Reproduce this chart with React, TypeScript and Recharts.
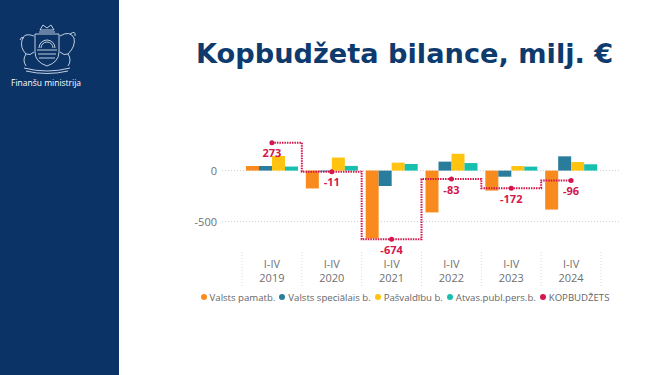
import React from 'react';
import {
  ComposedChart,
  Bar,
  Line,
  XAxis,
  YAxis,
  CartesianGrid,
  Legend,
  LabelList,
} from 'recharts';

// ---- data ----
const years = ['2019', '2020', '2021', '2022', '2023', '2024'];
const periodLabel = 'I-IV';
const valstsPamatb = [45, -175, -666, -410, -196, -382];
const valstsSpecialais = [45, -10, -151, 88, -60, 140];
const pasvaldibu = [143, 128, 78, 165, 45, 84];
const atvasPubl = [40, 46, 65, 74, 39, 62];
const kopbudzets = [273, -11, -674, -83, -172, -96];
const yTicks = [0, -500];
const yDomain = [-700, 300];

const seriesNames = {
  pamatb: 'Valsts pamatb.',
  spec: 'Valsts speciālais b.',
  pasv: 'Pašvaldību b.',
  atvas: 'Atvas.publ.pers.b.',
  kop: 'KOPBUDŽETS',
};

const colors = {
  pamatb: '#F98B1E',
  spec: '#2A7C9C',
  pasv: '#FFC310',
  atvas: '#17BFAE',
  kop: '#D3164C',
};

const data = years.map((y, i) => ({
  year: y,
  pamatb: valstsPamatb[i],
  spec: valstsSpecialais[i],
  pasv: pasvaldibu[i],
  atvas: atvasPubl[i],
  kop: kopbudzets[i],
}));

// ---- layout ----
const W = 665;
const H = 375;
const MARGIN = { top: 140, right: 45, bottom: 69, left: 182 };
const Y_AXIS_W = 40;
const X_PAD = { left: 20, right: 19 };
const BAND =
  (W - MARGIN.left - MARGIN.right - Y_AXIS_W - X_PAD.left - X_PAD.right) / years.length;

const XTick = (props: any) => {
  const { x, y, payload, index, visibleTicksCount } = props;
  const sepTop = y + 10;
  const sepBottom = y + 46;
  const isLast = index === (visibleTicksCount ?? years.length) - 1;
  return (
    <g>
      <line x1={x - BAND / 2} x2={x - BAND / 2} y1={sepTop} y2={sepBottom} stroke="#d9d9d9" strokeDasharray="1 2" />
      {isLast && (
        <line x1={x + BAND / 2} x2={x + BAND / 2} y1={sepTop} y2={sepBottom} stroke="#d9d9d9" strokeDasharray="1 2" />
      )}
      <text x={x} y={y + 26} textAnchor="middle" fontSize={11} fill="#707070" fontFamily="'Open Sans', sans-serif">
        {periodLabel}
      </text>
      <text x={x} y={y + 40} textAnchor="middle" fontSize={11} fill="#707070" fontFamily="'Open Sans', sans-serif">
        {payload.value}
      </text>
    </g>
  );
};

const LineLabel = (props: any) => {
  const { x, y, value } = props;
  return (
    <text x={x} y={y + 14.5} textAnchor="middle" fontSize={11} fontWeight={700} fill={colors.kop} fontFamily="'Open Sans', sans-serif">
      {value}
    </text>
  );
};

const legendItems = [
  { key: 'pamatb', name: seriesNames.pamatb },
  { key: 'spec', name: seriesNames.spec },
  { key: 'pasv', name: seriesNames.pasv },
  { key: 'atvas', name: seriesNames.atvas },
  { key: 'kop', name: seriesNames.kop },
];

const LegendContent = () => (
  <div
    style={{
      display: 'flex',
      justifyContent: 'center',
      alignItems: 'center',
      height: 18,
      fontFamily: "'Open Sans', sans-serif",
      fontSize: 9.6,
      color: '#666',
      whiteSpace: 'nowrap',
      paddingLeft: 12,
    }}
  >
    {legendItems.map((it) => (
      <span key={it.key} style={{ display: 'inline-flex', alignItems: 'center', marginRight: 4 }}>
        <span
          style={{
            width: 6,
            height: 6,
            borderRadius: 3,
            background: (colors as any)[it.key],
            display: 'inline-block',
            marginRight: 3,
          }}
        />
        {it.name}
      </span>
    ))}
  </div>
);

const Emblem = () => (
  <svg width={70} height={55} viewBox="0 0 70 55" style={{ position: 'absolute', left: 12, top: 20 }}>
    <g fill="none" stroke="rgba(225,232,245,0.85)" strokeWidth={1}>
      {/* crown / top ornament */}
      <path d="M28 10 L31 5 L35 8 L39 5 L42 10 Z" />
      <path d="M27 12 L43 12" />
      {/* shield */}
      <path d="M23 14 L47 14 L47 32 Q47 42 35 46 Q23 42 23 32 Z" />
      {/* sun */}
      <path d="M27 28 A8 8 0 0 1 43 28" />
      <path d="M29 28 A6 6 0 0 1 41 28" />
      <path d="M25 30 L45 30" />
      <path d="M26 34 L44 34 M27 38 L43 38" />
      {/* lion left */}
      <path d="M22 16 Q12 12 10 20 Q8 28 14 34 Q10 40 14 46 M14 34 Q18 36 22 32" />
      <path d="M12 18 Q9 16 8 20" />
      {/* griffin right */}
      <path d="M48 16 Q58 10 62 18 Q64 26 56 34 Q60 40 56 46 M56 34 Q52 36 48 32" />
      <path d="M58 14 Q64 10 63 16" />
      {/* banner */}
      <path d="M12 48 Q35 54 58 48" />
      <path d="M14 51 Q35 56 56 51" />
    </g>
  </svg>
);

export default function App() {
  return (
    <div style={{ position: 'absolute', left: 0, top: 0, width: W, height: H, background: '#fff', overflow: 'hidden' }}>
      <div style={{ position: 'absolute', left: 0, top: 0, width: 119, height: H, background: '#0B3366' }}>
        <Emblem />
        <div
          style={{
            position: 'absolute',
            left: 11,
            top: 77,
            color: '#fff',
            fontFamily: "'Open Sans', sans-serif",
            fontSize: 8.5,
            whiteSpace: 'nowrap',
          }}
        >
          Finanšu ministrija
        </div>
      </div>
      <div
        style={{
          position: 'absolute',
          left: 196,
          top: 37,
          color: '#0E3A6E',
          fontFamily: "'DejaVu Sans', Verdana, sans-serif",
          fontWeight: 700,
          fontSize: 27.2,
          whiteSpace: 'nowrap',
          lineHeight: '34px',
        }}
      >
        Kopbudžeta bilance, milj. €
      </div>
      <div style={{ position: 'absolute', left: 0, top: 0 }}>
        <ComposedChart width={W} height={H} data={data} margin={MARGIN} barCategoryGap={4} barGap={0}>
          <CartesianGrid
            vertical={false}
            horizontalValues={yTicks}
            stroke="#cfcfcf"
            strokeDasharray="1 2"
          />
          <XAxis
            dataKey="year"
            axisLine={false}
            tickLine={false}
            tickSize={0}
            tickMargin={0}
            height={46}
            padding={X_PAD}
            interval={0}
            tick={<XTick />}
          />
          <YAxis
            width={Y_AXIS_W}
            domain={yDomain}
            ticks={yTicks}
            axisLine={false}
            tickLine={false}
            tickSize={0}
            tickMargin={5}
            allowDataOverflow
            tick={{ fontSize: 11, fill: '#707070', fontFamily: "'Open Sans', sans-serif" }}
          />
          <Legend verticalAlign="bottom" content={<LegendContent />} />
          <Bar dataKey="pamatb" name={seriesNames.pamatb} fill={colors.pamatb} isAnimationActive={false} />
          <Bar dataKey="spec" name={seriesNames.spec} fill={colors.spec} isAnimationActive={false} />
          <Bar dataKey="pasv" name={seriesNames.pasv} fill={colors.pasv} isAnimationActive={false} />
          <Bar dataKey="atvas" name={seriesNames.atvas} fill={colors.atvas} isAnimationActive={false} />
          <Line
            type="step"
            dataKey="kop"
            name={seriesNames.kop}
            stroke={colors.kop}
            strokeWidth={2}
            strokeDasharray="1.5 1"
            dot={{ r: 2.5, fill: colors.kop, stroke: colors.kop, strokeWidth: 0, strokeDasharray: '' }}
            isAnimationActive={false}
          >
            <LabelList dataKey="kop" content={<LineLabel />} />
          </Line>
        </ComposedChart>
      </div>
    </div>
  );
}
